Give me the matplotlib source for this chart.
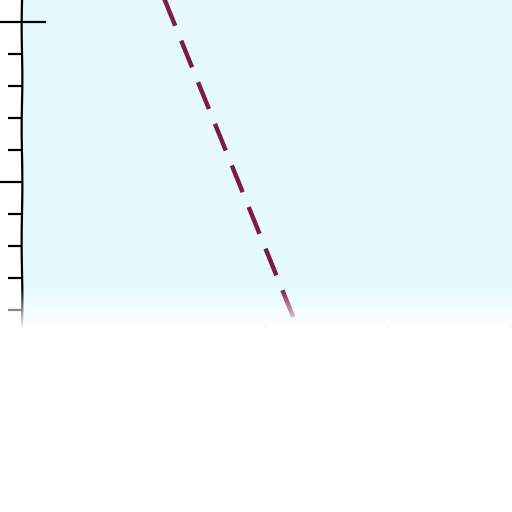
import numpy as np
import matplotlib
matplotlib.use("Agg")
import matplotlib.pyplot as plt
from matplotlib.ticker import MultipleLocator

# data
line_x = [1.1, 2.3]
line_y = [11.35, 0.06]
x_ticks = [0, 1, 2, 3, 4]

BG = "#e6fafd"
LINE_COLOR = "#7b1b4c"

fig = plt.figure(figsize=(5.12, 5.12), dpi=100)
fig.patch.set_facecolor("white")

ax = fig.add_axes([22 / 512, 1 - 325 / 512, 1 - 22 / 512, 325 / 512])
ax.set_facecolor(BG)
ax.set_xlim(0, 490 / 122)
ax.set_ylim(0.53, 10.69)

ax.plot(line_x, line_y, color=LINE_COLOR, lw=3.2, dashes=(6.5, 3.6),
        solid_capstyle="butt", dash_capstyle="butt")

# short mark at the top major tick
ax.plot([0, 23 / 122], [10, 10], color="black", lw=1.6, clip_on=False)

for side in ["top", "right", "bottom"]:
    ax.spines[side].set_visible(False)
ax.spines["left"].set_linewidth(1.6)
ax.spines["left"].set_sketch_params(0.35, 120, 2)

ax.yaxis.set_major_locator(MultipleLocator(5))
ax.yaxis.set_minor_locator(MultipleLocator(1))
ax.tick_params(axis="y", which="major", length=18, width=1.6, labelleft=False)
ax.tick_params(axis="y", which="minor", length=10, width=1.6)
ax.set_xticks(x_ticks)
ax.tick_params(axis="x", length=8, width=1.5, color="#b0a0b0",
               labelbottom=False)

# fade to white at the bottom
fade = fig.add_axes([0, 0, 1, (512 - 288) / 512], zorder=10)
n = 224
alpha = np.clip(np.arange(n) / 40.0, 0, 1)[::-1]
img = np.ones((n, 2, 4))
img[:, :, 3] = alpha[:, None]
fade.imshow(img, aspect="auto", extent=[0, 1, 0, 1], origin="lower")
fade.set_axis_off()

fig.savefig("out.png", dpi=100, facecolor="white")
